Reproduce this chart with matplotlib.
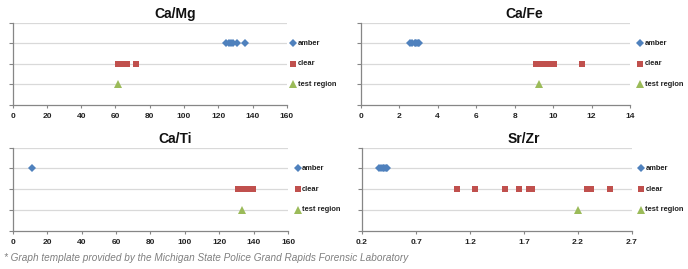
import matplotlib.pyplot as plt
from matplotlib.transforms import offset_copy

# category rows (top to bottom)
series = ["amber", "clear", "test region"]
rows = [3, 2, 1]
colors = ["#4F81BD", "#C0504D", "#9BBB59"]
markers = ["D", "s", "^"]
msizes = [4.5, 5, 5.5]

# Ca/Mg
camg_amber = [124.5, 126, 127.5, 128.5, 131, 135.5]
camg_clear = [61.5, 62.5, 63.5, 64.5, 65.5, 66.5, 72]
camg_test = [61.7]
camg_ticks = [0, 20, 40, 60, 80, 100, 120, 140, 160]

# Ca/Fe
cafe_amber = [2.55, 2.65, 2.8, 2.9, 3.0, 3.05]
cafe_clear = [9.1, 9.2, 9.3, 9.45, 9.75, 9.9, 10.05, 11.5]
cafe_test = [9.25]
cafe_ticks = [0, 2, 4, 6, 8, 10, 12, 14]

# Ca/Ti
cati_amber = [11.2]
cati_clear = [131, 132.5, 134, 135.5, 137, 138.5, 139.5]
cati_test = [133.4]
cati_ticks = [0, 20, 40, 60, 80, 100, 120, 140, 160]

# Sr/Zr
srzr_amber = [0.36, 0.38, 0.39, 0.40, 0.42, 0.43]
srzr_clear = [1.08, 1.25, 1.52, 1.65, 1.75, 1.77, 2.28, 2.32, 2.50]
srzr_test = [2.20]
srzr_ticks = [0.2, 0.7, 1.2, 1.7, 2.2, 2.7]
srzr_labels = ["0.2", "0.7", "1.2", "1.7", "2.2", "2.7"]

panels = [
    ("Ca/Mg", [camg_amber, camg_clear, camg_test], camg_ticks, None,
     [0.0185, 0.6097, 0.3983, 0.3048], 175, 14, 6.5),
    ("Ca/Fe", [cafe_amber, cafe_clear, cafe_test], cafe_ticks, None,
     [0.5243, 0.6097, 0.3914, 0.3048], 524, 14, 10),
    ("Ca/Ti", [cati_amber, cati_clear, cati_test], cati_ticks, None,
     [0.0185, 0.1424, 0.4002, 0.3086], 175, 139, 9.5),
    ("Sr/Zr", [srzr_amber, srzr_clear, srzr_test], srzr_ticks, srzr_labels,
     [0.5262, 0.1424, 0.3924, 0.3086], 524, 139, 9),
]

W, H = 688, 269
fig = plt.figure(figsize=(W / 100, H / 100), dpi=100)
plt.rcParams['font.family'] = ['Liberation Sans', 'DejaVu Sans']

grid_c = "#D9D9D9"
axis_c = "#868686"

for title, data, ticks, labels, pos, tx, ty, lgap in panels:
    ax = fig.add_axes(pos)
    for vals, r, c, m, ms in zip(data, rows, colors, markers, msizes):
        ax.plot(vals, [r] * len(vals), linestyle="none", marker=m, color=c,
                markersize=ms, markeredgewidth=0, zorder=3)
    ax.set_xlim(ticks[0], ticks[-1])
    ax.set_ylim(0, 4)
    ax.set_yticks([0, 1, 2, 3, 4])
    ax.set_yticklabels([])
    ax.set_xticks(ticks)
    if labels:
        ax.set_xticklabels(labels)
    for y in [1, 2, 3, 4]:
        ax.axhline(y, color=grid_c, linewidth=0.9, zorder=1)
    for s in ["top", "right"]:
        ax.spines[s].set_visible(False)
    for s in ["left", "bottom"]:
        ax.spines[s].set_color(axis_c)
        ax.spines[s].set_linewidth(0.9)
    ax.tick_params(axis="y", length=3, width=0.8, color=axis_c, direction="out")
    ax.tick_params(axis="x", length=2, width=0.8, color=axis_c, direction="out",
                   labelsize=6, pad=4, labelcolor="#222222")
    for t in ax.get_xticklabels():
        t.set_fontweight("bold")
    ax.set_facecolor("none")

    # legend beside the rows
    mk_tr = offset_copy(ax.transAxes, fig=fig, x=lgap, y=0, units="dots")
    tx_tr = offset_copy(ax.transAxes, fig=fig, x=lgap + 4.5, y=0, units="dots")
    for name, r, c, m, ms in zip(series, rows, colors, markers, msizes):
        ax.plot([1.0], [r / 4], transform=mk_tr, marker=m, color=c,
                markersize=ms, markeredgewidth=0, clip_on=False)
        ax.text(1.0, r / 4, name, transform=tx_tr, fontsize=5.4,
                fontweight="bold", va="center", ha="left", color="#222222")

    fig.text(tx / W, 1 - ty / H, title, fontsize=10, fontweight="bold",
             ha="center", va="center", color="#111111")

fig.text(4 / W, 1 - 258 / H,
         "* Graph template provided by the Michigan State Police Grand Rapids Forensic Laboratory",
         fontsize=7.2, style="italic", color="#7F7F7F", ha="left", va="center")

fig.savefig("out.png", dpi=100)
